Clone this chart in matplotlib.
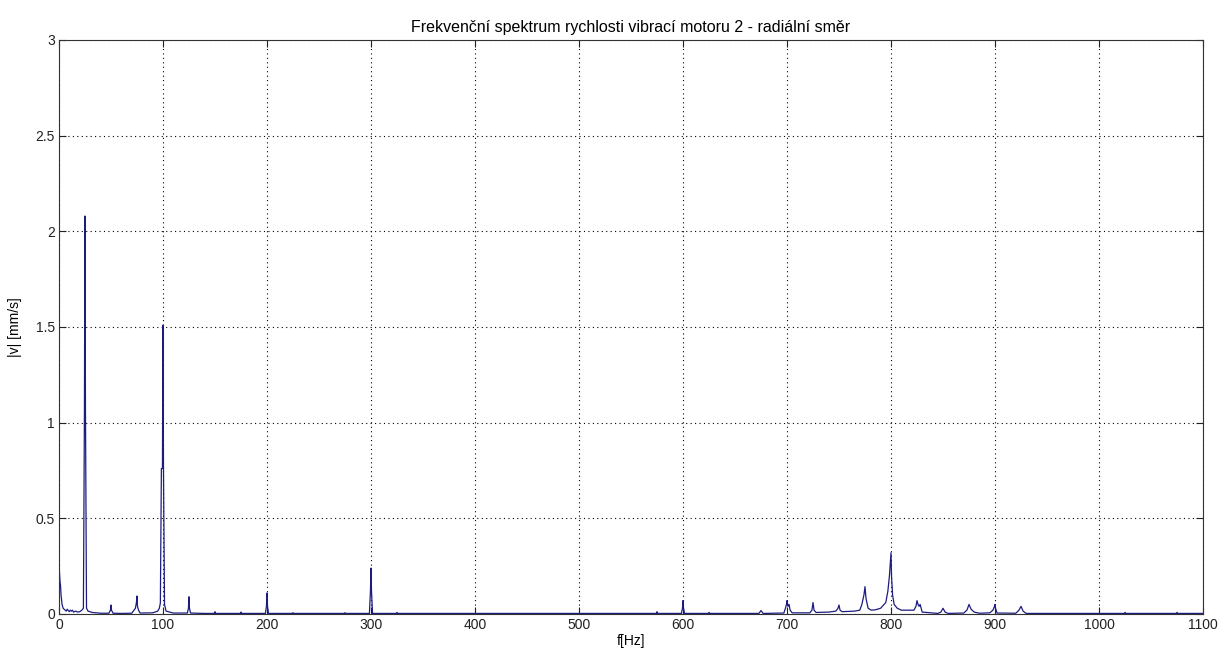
import matplotlib.pyplot as plt

plt.rcParams['font.family'] = ['Liberation Sans', 'DejaVu Sans']

# spectrum vertices (Hz, mm/s)
freq = [0, 0.5, 1, 1.5, 2, 3, 4, 5, 6, 7, 8, 9, 10, 11, 12, 13, 14, 16, 18, 20, 22, 23.5,
        24.5, 25, 25.5, 26.5, 28, 32, 40, 48, 49.5, 50, 50.5, 52, 60, 70, 73.5, 74.5, 75, 75.5, 76.5, 78,
        90, 95, 96.5, 97.5, 98.5, 99.5, 100, 100.5, 101.5, 103, 110, 123.5, 124.5, 125, 125.5, 126.5,
        140, 149.5, 150, 150.5, 174.5, 175, 175.5, 198.5, 199.5, 200, 200.5, 201.5,
        224.5, 225, 225.5, 274.5, 275, 275.5, 298.5, 299.5, 300, 300.5, 301.5, 324.5, 325, 325.5,
        400, 500, 574.5, 575, 575.5, 598.5, 599.5, 600, 600.5, 601.5, 624.5, 625, 625.5,
        673, 675, 677, 697, 698.5, 699.5, 700, 701, 702, 703, 705, 722, 724, 725, 726, 728,
        740, 747, 749, 750, 751, 753, 765, 770, 772, 774, 775, 776, 778, 781, 785, 790,
        795, 797, 798.5, 799.5, 800, 800.5, 801.5, 803, 806, 810, 822, 824, 825, 826, 827, 828, 830,
        845, 848, 850, 852, 855, 870, 873, 875, 877, 880, 885, 895, 898, 899.5, 900, 900.5, 902,
        920, 923, 925, 927, 930, 1024.5, 1025, 1025.5, 1074.5, 1075, 1075.5, 1100]
amp = [0.25, 0.22, 0.17, 0.15, 0.10, 0.05, 0.03, 0.025, 0.02, 0.015, 0.025, 0.018, 0.012, 0.02, 0.015, 0.02, 0.01, 0.015, 0.01, 0.012, 0.02, 0.03,
       1.06, 2.08, 1.06, 0.03, 0.015, 0.008, 0.004, 0.004, 0.02, 0.047, 0.02, 0.004, 0.003, 0.004, 0.03, 0.06, 0.094, 0.04, 0.02, 0.005,
       0.006, 0.015, 0.03, 0.057, 0.76, 0.76, 1.51, 0.76, 0.05, 0.015, 0.005, 0.005, 0.03, 0.09, 0.03, 0.005,
       0.003, 0.003, 0.012, 0.003, 0.003, 0.01, 0.003, 0.003, 0.04, 0.11, 0.04, 0.003,
       0.003, 0.007, 0.003, 0.003, 0.007, 0.003, 0.003, 0.12, 0.24, 0.12, 0.003, 0.003, 0.008, 0.003,
       0.003, 0.003, 0.003, 0.012, 0.003, 0.003, 0.03, 0.07, 0.03, 0.003, 0.003, 0.008, 0.003,
       0.003, 0.018, 0.003, 0.005, 0.03, 0.05, 0.07, 0.04, 0.05, 0.02, 0.006, 0.006, 0.02, 0.06, 0.02, 0.008,
       0.01, 0.015, 0.03, 0.047, 0.02, 0.012, 0.015, 0.02, 0.05, 0.10, 0.143, 0.08, 0.03, 0.02, 0.022, 0.03,
       0.06, 0.12, 0.2, 0.28, 0.32, 0.2, 0.1, 0.05, 0.03, 0.02, 0.02, 0.04, 0.07, 0.05, 0.04, 0.05, 0.01,
       0.003, 0.01, 0.03, 0.01, 0.003, 0.005, 0.02, 0.05, 0.025, 0.01, 0.004, 0.006, 0.02, 0.04, 0.05, 0.03, 0.005,
       0.004, 0.02, 0.04, 0.015, 0.003, 0.003, 0.008, 0.003, 0.003, 0.008, 0.003, 0.003]

xticks = list(range(0, 1101, 100))
yticks = [0, 0.5, 1, 1.5, 2, 2.5, 3]
ytick_labels = ["0", "0.5", "1", "1.5", "2", "2.5", "3"]

fig = plt.figure(figsize=(12.18, 6.55), dpi=100)
ax = fig.add_axes([0.0484, 0.0626, 0.9393, 0.8764])

ax.plot(freq, amp, color="#1c1c80", lw=0.9)

ax.set_xlim(0, 1100)
ax.set_ylim(0, 3)
ax.set_xticks(xticks)
ax.set_yticks(yticks)
ax.set_yticklabels(ytick_labels)
ax.tick_params(direction="in", top=True, right=True, labelsize=10, length=5, pad=3,
               colors="#222222")
ax.grid(True, linestyle=(0, (1, 3)), color="black", lw=0.8)
for s in ax.spines.values():
    s.set_linewidth(0.8)
    s.set_color("#333333")

ax.set_title("Frekvenční spektrum rychlosti vibrací motoru 2 - radiální směr", fontsize=11.5, pad=6)
ax.set_xlabel("f[Hz]", fontsize=10, labelpad=1)
ax.set_ylabel("|v| [mm/s]", fontsize=10, labelpad=10)

fig.savefig("out.png", dpi=100)
